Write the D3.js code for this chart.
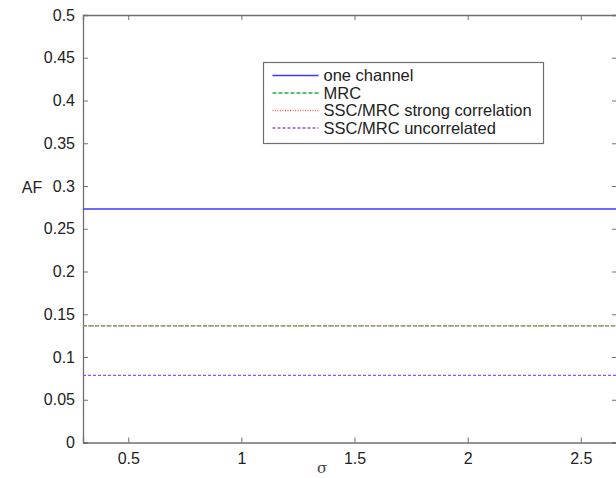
<!DOCTYPE html>
<html>
<head>
<meta charset="utf-8">
<script src="https://cdn.jsdelivr.net/npm/d3@7"></script>
<style>
  body { margin: 0; background: #fff; }
  svg { font-family: "Liberation Sans", Arial, sans-serif; }
</style>
</head>
<body>
<svg width="616" height="478"></svg>
<script>
// data
const sigma = [0.3, 0.5, 1, 1.5, 2, 2.5, 2.7];
const oneChannel = sigma.map(() => 0.273);
const mrc = sigma.map(() => 0.1365);
const sscStrong = sigma.map(() => 0.1365);
const sscUncorr = sigma.map(() => 0.0785);

const seriesNames = ['one channel', 'MRC', 'SSC/MRC strong correlation', 'SSC/MRC uncorrelated'];
const seriesValues = [oneChannel, mrc, sscStrong, sscUncorr];
const seriesColors = ['#3a3aff', '#20b040', '#ff6060', '#9050ff'];
const seriesDash = [null, '4,2', '1,1.5', '3,2'];

const xTicks = [0.5, 1, 1.5, 2, 2.5];
const yTicks = [0, 0.05, 0.1, 0.15, 0.2, 0.25, 0.3, 0.35, 0.4, 0.45, 0.5];

const svg = d3.select('svg');
const m = {left: 83, top: 15, right: 617, bottom: 442.5};

const x = d3.scaleLinear().domain([0.3, 2.66]).range([m.left, m.right]);
const y = d3.scaleLinear().domain([0, 0.5]).range([m.bottom, m.top]);

const axisColor = '#707070';

// axes (MATLAB style, ticks inward)
const gx = svg.append('g').attr('transform', `translate(0,${m.bottom})`)
    .call(d3.axisBottom(x).tickValues(xTicks).tickSize(-5).tickPadding(10).tickFormat(d3.format('')));
const gxTop = svg.append('g').attr('transform', `translate(0,${m.top})`)
    .call(d3.axisTop(x).tickValues(xTicks).tickSize(-5).tickFormat(''));
const gy = svg.append('g').attr('transform', `translate(${m.left},0)`)
    .call(d3.axisLeft(y).tickValues(yTicks).tickSize(-5).tickPadding(8).tickFormat(d3.format('')));
const gyRight = svg.append('g').attr('transform', `translate(${m.right},0)`)
    .call(d3.axisRight(y).tickValues(yTicks).tickSize(-5).tickFormat(''));

[gx, gxTop, gy, gyRight].forEach(g => {
    g.attr('font-size', 16).attr('font-family', '"Liberation Sans", Arial, sans-serif');
    g.select('.domain').attr('stroke', axisColor).attr('stroke-width', 1.3);
    g.selectAll('.tick line').attr('stroke', axisColor);
    g.selectAll('.tick text').attr('fill', '#222');
});

// series lines
const line = d3.line().x((d, i) => x(sigma[i])).y(d => y(d));
seriesValues.forEach((vals, k) => {
    svg.append('path')
        .attr('d', line(vals))
        .attr('fill', 'none')
        .attr('stroke', seriesColors[k])
        .attr('stroke-width', k === 0 ? 1.5 : 1.2)
        .attr('stroke-dasharray', seriesDash[k]);
});

// axis labels
svg.append('text').attr('x', 32).attr('y', 193).attr('text-anchor', 'middle')
    .attr('font-size', 16).attr('fill', '#222').text('AF');
svg.append('text').attr('x', 322).attr('y', 473).attr('text-anchor', 'middle')
    .attr('font-size', 15).attr('fill', '#444').attr('font-family', '"DejaVu Serif", serif').text('σ');

// legend
const lg = {x: 263.5, y: 62.5, w: 280, h: 81, row: 17.5};
svg.append('rect').attr('x', lg.x).attr('y', lg.y).attr('width', lg.w).attr('height', lg.h)
    .attr('fill', '#fff').attr('stroke', axisColor).attr('stroke-width', 1.2);
seriesNames.forEach((name, k) => {
    const cy = lg.y + 13 + k * lg.row;
    svg.append('line').attr('x1', lg.x + 9).attr('x2', lg.x + 55).attr('y1', cy).attr('y2', cy)
        .attr('stroke', seriesColors[k]).attr('stroke-width', 1.5)
        .attr('stroke-dasharray', seriesDash[k]);
    svg.append('text').attr('x', lg.x + 60).attr('y', cy + 5.5)
        .attr('font-size', 16.5).attr('fill', '#222').text(name);
});
</script>
</body>
</html>
